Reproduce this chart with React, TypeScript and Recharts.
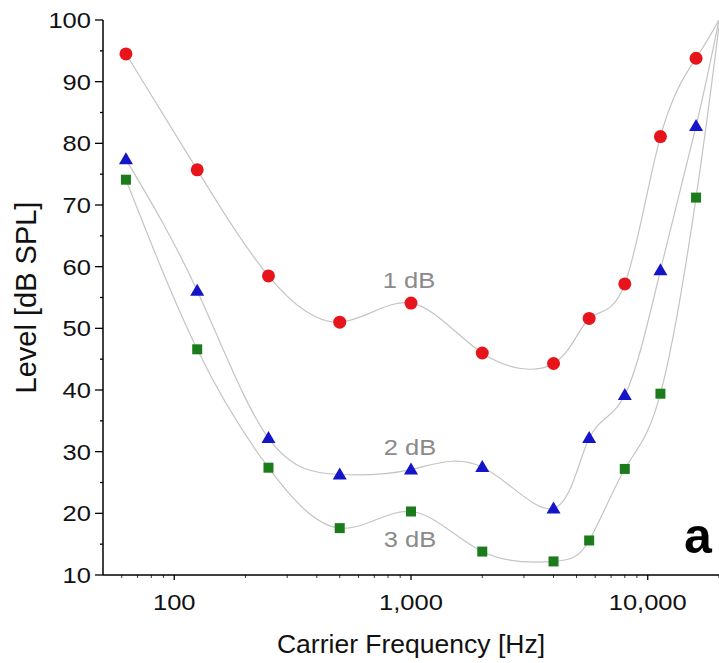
import { LineChart, Line, XAxis, YAxis } from "recharts";

// carrier frequencies (Hz) of the measured points
const freqs = [62.5, 125, 250, 500, 1000, 2000, 4000, 5657, 8000, 11314, 16000];
// fitted curves run on past the last point to the upper edge
const tailFreq = 20000;

const oneDb = [94.5, 75.7, 58.5, 51.0, 54.1, 46.0, 44.3, 51.6, 57.2, 81.1, 93.8];
const twoDb = [77.4, 56.1, 32.2, 26.3, 27.1, 27.5, 20.8, 32.2, 39.2, 59.4, 82.8];
const threeDb = [74.1, 46.6, 27.4, 17.6, 20.3, 13.8, 12.2, 15.6, 27.2, 39.4, 71.2];
const tails = [100, 100, 99];

const yTicks = [10, 15, 20, 25, 30, 35, 40, 45, 50, 55, 60, 65, 70, 75, 80, 85, 90, 95, 100];
const xTicks = [
  60, 70, 80, 90, 100, 200, 300, 400, 500, 600, 700, 800, 900, 1000,
  2000, 3000, 4000, 5000, 6000, 7000, 8000, 9000, 10000, 20000,
];
const xMajor = [100, 1000, 10000];

const FONT = "'Liberation Sans', Arial, Helvetica, sans-serif";
const CURVE = "#c4c4c4";

const build = (vals: number[], tail: number) => [
  ...freqs.map((f, i) => ({ f, v: vals[i] })),
  { f: tailFreq, v: tail, tail: true },
];

const series = [
  { name: "1 dB", data: build(oneDb, tails[0]), shape: "circle" },
  { name: "2 dB", data: build(twoDb, tails[1]), shape: "triangle" },
  { name: "3 dB", data: build(threeDb, tails[2]), shape: "square" },
];

function Marker(props: any) {
  const { cx, cy, payload, shape } = props;
  if (payload?.tail || cx == null || cy == null) return <g />;
  if (shape === "circle") return <circle cx={cx} cy={cy} r={6.5} fill="#e8141c" />;
  if (shape === "triangle")
    return (
      <polygon
        points={`${cx},${cy - 7} ${cx - 7},${cy + 5} ${cx + 7},${cy + 5}`}
        fill="#1414c8"
      />
    );
  return <rect x={cx - 5} y={cy - 5} width={10} height={10} fill="#1c7c1c" />;
}

// text is a bit wide in the source figure
const STRETCH = 1.16;

function YTick(props: any) {
  const { x, y, payload } = props;
  const major = payload.value % 10 === 0;
  return (
    <g>
      <line x1={x - (major ? 8 : 3)} x2={x} y1={y} y2={y} stroke="#000" strokeWidth={1.3} />
      {major && (
        <text
          transform={`translate(${x - 12},${y + 8}) scale(${STRETCH},1)`}
          textAnchor="end"
          fontSize={22}
          fontFamily={FONT}
          fill="#111"
        >
          {payload.value}
        </text>
      )}
    </g>
  );
}

function XTick(props: any) {
  const { x, y, payload } = props;
  const major = xMajor.includes(payload.value);
  return (
    <g>
      <line x1={x} x2={x} y1={y} y2={y + (major ? 5 : 3)} stroke="#000" strokeWidth={major ? 1.3 : 0.8} />
      {major && (
        <text
          transform={`translate(${x},${y + 35}) scale(${STRETCH},1)`}
          textAnchor="middle"
          fontSize={22}
          fontFamily={FONT}
          fill="#111"
        >
          {payload.value.toLocaleString("en-US")}
        </text>
      )}
    </g>
  );
}

function CurveLabel({ x, y, text }: { x: number; y: number; text: string }) {
  return (
    <text
      transform={`translate(${x},${y}) scale(${STRETCH},1)`}
      textAnchor="middle"
      fontSize={22}
      fontFamily={FONT}
      fill="#8a8a8a"
    >
      {text}
    </text>
  );
}

export default function App() {
  return (
    <div style={{ position: "absolute", left: 0, top: 0, width: 719, height: 663, background: "#fff" }}>
      <LineChart width={719} height={663} margin={{ top: 20, right: 0, left: 0, bottom: 0 }}>
        <XAxis
          dataKey="f"
          type="number"
          scale="log"
          domain={[50, 20000]}
          allowDataOverflow
          ticks={xTicks}
          interval={0}
          tick={<XTick />}
          tickSize={0}
          tickMargin={0}
          tickLine={false}
          height={88}
          stroke="#000"
          strokeWidth={1.5}
          label={{
            value: "Carrier Frequency [Hz]",
            position: "insideBottom",
            offset: 10,
            style: { fontSize: 26.5, fontFamily: FONT, fill: "#111" },
          }}
        />
        <YAxis
          type="number"
          domain={[10, 100]}
          allowDataOverflow
          ticks={yTicks}
          interval={0}
          tick={<YTick />}
          tickSize={0}
          tickMargin={0}
          tickLine={false}
          width={103}
          stroke="#000"
          strokeWidth={1.5}
          label={{
            value: "Level [dB SPL]",
            angle: -90,
            position: "insideLeft",
            offset: 26,
            style: { fontSize: 29, fontFamily: FONT, fill: "#111", textAnchor: "middle" },
          }}
        />
        {series.map((s) => (
          <Line
            key={s.name}
            data={s.data}
            dataKey="v"
            type="natural"
            stroke={CURVE}
            strokeWidth={1.2}
            dot={(p: any) => <Marker key={`${s.name}-${p.index}`} {...p} shape={s.shape} />}
            activeDot={false}
            isAnimationActive={false}
          />
        ))}
      </LineChart>
      <svg
        width={719}
        height={663}
        style={{ position: "absolute", left: 0, top: 0, pointerEvents: "none" }}
      >
        <CurveLabel x={409} y={288} text="1 dB" />
        <CurveLabel x={410} y={455} text="2 dB" />
        <CurveLabel x={410} y={547} text="3 dB" />
        <text x={698} y={553} textAnchor="middle" fontSize={50} fontWeight="bold" fontFamily={FONT} fill="#000">
          a
        </text>
      </svg>
    </div>
  );
}
